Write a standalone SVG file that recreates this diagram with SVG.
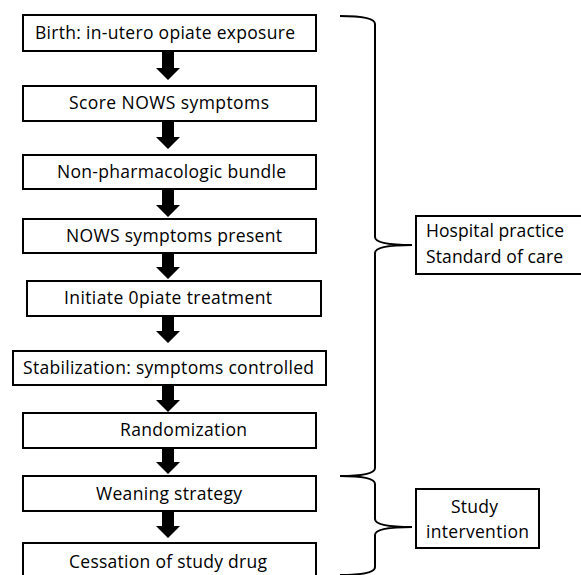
<svg xmlns="http://www.w3.org/2000/svg" width="581" height="575" viewBox="0 0 581 575">
<style>
.box{fill:#fff;stroke:#000;stroke-width:2}
.t{font-family:"Open Sans","Liberation Sans",sans-serif;font-size:17.5px;fill:#000}
.arr{fill:#000;stroke:none}
.brace{fill:none;stroke:#000;stroke-width:2}
</style>
<rect width="581" height="575" fill="#fff"/>
<g id="connectors">
<path class="arr" d="M162,51 H174 V68 H180 L168,80 L156,68 H162 Z"/>
<path class="arr" d="M162,121 H174 V137 H180 L168,149 L156,137 H162 Z"/>
<path class="arr" d="M162,189 H174 V205 H180 L168,217 L156,205 H162 Z"/>
<path class="arr" d="M162,253 H174 V267 H180 L168,279 L156,267 H162 Z"/>
<path class="arr" d="M162,316 H174 V331 H180 L168,343 L156,331 H162 Z"/>
<path class="arr" d="M162,385 H174 V400 H180 L168,412 L156,400 H162 Z"/>
<path class="arr" d="M162,448 H174 V462 H180 L168,474 L156,462 H162 Z"/>
<path class="arr" d="M162,511 H174 V526 H180 L168,538 L156,526 H162 Z"/>
<path class="brace" d="M340,16 Q375,16 375,24 L375,237 Q375,245 412,245 Q375,245 375,253 L375,468 Q375,476 340,476"/>
<path class="brace" d="M340,476 Q375,476 375,484 L375,519 Q375,527 412,527 Q375,527 375,535 L375,567 Q375,575 340,575"/>
</g>
<g id="n1"><rect class="box" x="23" y="15" width="293" height="36"/><text class="t" x="35" y="39" textLength="260">Birth: in-utero opiate exposure</text></g>
<g id="n2"><rect class="box" x="23" y="86" width="293" height="35"/><text class="t" x="69" y="109" textLength="200">Score NOWS symptoms</text></g>
<g id="n3"><rect class="box" x="23" y="155" width="293" height="34"/><text class="t" x="57" y="178" textLength="229">Non-pharmacologic bundle</text></g>
<g id="n4"><rect class="box" x="23" y="219" width="293" height="34"/><text class="t" x="66" y="242" textLength="216">NOWS symptoms present</text></g>
<g id="n5"><rect class="box" x="27" y="281" width="294" height="35"/><text class="t" x="64" y="304" textLength="208">Initiate 0piate treatment</text></g>
<g id="n6"><rect class="box" x="13" y="351" width="313" height="34"/><text class="t" x="23" y="374" textLength="291">Stabilization: symptoms controlled</text></g>
<g id="n7"><rect class="box" x="23" y="413" width="293" height="35"/><text class="t" x="120" y="436" textLength="127">Randomization</text></g>
<g id="n8"><rect class="box" x="23" y="476" width="293" height="35"/><text class="t" x="96" y="500" textLength="146">Weaning strategy</text></g>
<g id="n9"><rect class="box" x="23" y="543" width="293" height="45"/><text class="t" x="69" y="568" textLength="198">Cessation of study drug</text></g>
<g id="n10"><rect class="box" x="416" y="216" width="170" height="58"/><text class="t" x="426" y="237" textLength="138">Hospital practice</text><text class="t" x="426" y="263" textLength="137">Standard of care</text></g>
<g id="n11"><rect class="box" x="416" y="489" width="123" height="59"/><text class="t" x="451" y="513" textLength="47">Study</text><text class="t" x="426" y="538" textLength="103">intervention</text></g>
</svg>
